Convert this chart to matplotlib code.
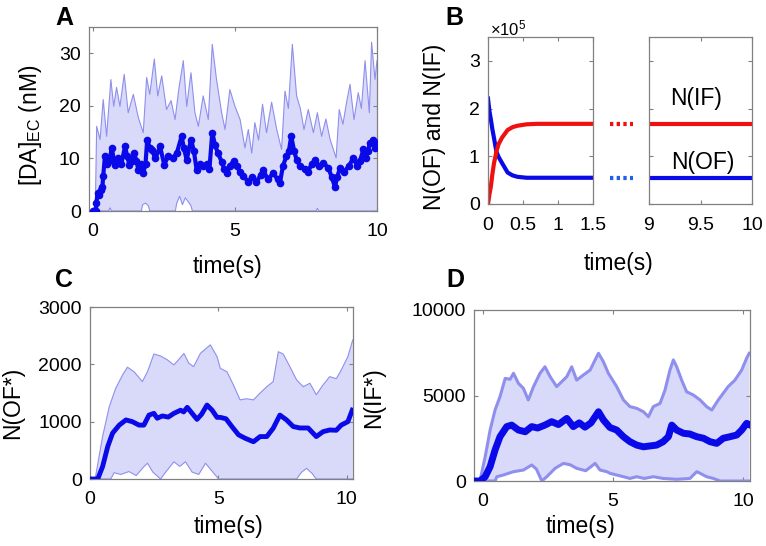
import numpy as np
import matplotlib
matplotlib.use("Agg")
import matplotlib.pyplot as plt

plt.rcParams['font.family'] = ['Liberation Sans', 'DejaVu Sans']
plt.rcParams['mathtext.fontset'] = 'custom'
plt.rcParams['mathtext.rm'] = 'Liberation Sans'
plt.rcParams['mathtext.it'] = 'Liberation Sans:italic'

# ---------------- Panel A data ----------------
tA_up = [0.0, 0.08, 0.13, 0.25, 0.36, 0.48, 0.63, 0.73, 0.83, 0.95, 1.10, 1.24, 1.42, 1.60, 1.77,
         1.89, 2.00, 2.16, 2.28, 2.42, 2.59, 2.75, 2.89, 3.03, 3.18, 3.30, 3.45, 3.59, 3.71, 3.88,
         4.06, 4.20, 4.35, 4.53, 4.65, 4.82, 5.00, 5.18, 5.35, 5.47, 5.59, 5.70, 5.83, 5.97, 6.11,
         6.29, 6.47, 6.64, 6.76, 6.88, 7.02, 7.17, 7.30, 7.43, 7.58, 7.76, 7.90, 8.05, 8.20, 8.35,
         8.56, 8.67, 8.80, 8.93, 9.05, 9.19, 9.34, 9.45, 9.58, 9.73, 9.81, 9.93, 10.0]
vA_up = [0, 0, 16.1, 13.6, 21.2, 14.2, 25.0, 19.9, 23.5, 19.9, 26.0, 18.7, 22.2, 17.7, 14.9,
         25.4, 22.2, 28.9, 21.9, 25.7, 19.3, 21.0, 17.4, 23.5, 28.6, 19.9, 26.3, 18.7, 16.1, 21.9,
         17.4, 31.7, 25.0, 18.7, 15.5, 23.1, 19.9, 17.4, 12.0, 15.5, 11.0, 16.8, 13.5, 20.3, 14.9,
         20.7, 15.5, 11.7, 22.8, 19.5, 31.7, 21.9, 19.5, 15.5, 19.3, 14.9, 18.7, 14.2, 17.5, 13.6,
         10.1, 19.3, 16.5, 20.7, 24.1, 17.4, 22.5, 19.5, 28.6, 18.7, 32.1, 25.0, 28.6]
tA_lo = [0, 0.55, 0.6, 0.65, 1.7, 1.75, 1.85, 1.95, 2.0, 2.9, 2.95, 3.05, 3.15, 3.25, 3.35,
         3.45, 3.5, 7.85, 7.9, 7.95, 10.0]
vA_lo = [0, 0, 0.6, 0, 0, 1.2, 1.5, 1.0, 0, 0, 1.5, 2.8, 1.2, 2.5, 1.8, 1.0, 0, 0, 0.5, 0, 0]
tA_mean = [0.0, 0.05, 0.10, 0.12, 0.16, 0.22, 0.28, 0.33, 0.36, 0.42, 0.50, 0.58, 0.66, 0.77, 0.88,
           1.00, 1.13, 1.20, 1.28, 1.36, 1.45, 1.53, 1.60, 1.70, 1.77, 1.85, 1.91, 2.00, 2.07, 2.20,
           2.36, 2.51, 2.65, 2.80, 2.95, 3.12, 3.20, 3.30, 3.45, 3.55, 3.65, 3.78, 3.88, 4.00, 4.10,
           4.20, 4.30, 4.40, 4.53, 4.62, 4.71, 4.82, 4.95, 5.06, 5.18, 5.29, 5.47, 5.60, 5.75, 5.90,
           6.00, 6.15, 6.35, 6.50, 6.58, 6.69, 6.81, 6.90, 6.98, 7.08, 7.17, 7.30, 7.45, 7.58, 7.70,
           7.82, 7.95, 8.10, 8.29, 8.40, 8.52, 8.60, 8.70, 8.85, 9.00, 9.17, 9.30, 9.40, 9.52, 9.60,
           9.68, 9.75, 9.87, 9.93, 10.0]
vA_mean = [0, 0, 0, 1.5, 3.4, 3.0, 4.0, 4.5, 6.6, 10.4, 9.0, 9.5, 12.0, 8.8, 10.0,
           9.0, 12.3, 10.5, 8.8, 9.5, 11.0, 9.5, 7.8, 9.0, 7.2, 9.0, 13.6, 12.0, 11.6, 10.0,
           12.3, 8.8, 10.5, 10.0, 11.0, 14.2, 12.0, 9.7, 13.6, 11.5, 7.8, 9.0, 8.6, 9.0, 8.0,
           14.9, 12.5, 11.0, 9.4, 8.0, 7.2, 8.6, 9.5, 8.5, 7.5, 6.6, 5.6, 6.5, 5.5, 6.8,
           7.8, 6.0, 7.2, 6.0, 5.3, 8.6, 10.4, 11.5, 14.2, 11.5, 9.7, 8.5, 8.0, 7.5, 9.0,
           9.7, 8.5, 9.2, 8.2, 6.5, 4.6, 6.5, 8.2, 7.5, 8.5, 10.1, 8.5, 9.5, 11.7, 10.0,
           11.5, 12.9, 13.6, 12.0, 12.9]

# ---------------- Panel B data (units of 1e5) ----------------
tB = [0, 0.02, 0.04, 0.062, 0.086, 0.11, 0.12, 0.15, 0.2, 0.28, 0.35, 0.42, 0.55, 0.7, 1.0, 1.5]
nIF = [0, 0.2, 0.36, 0.62, 0.86, 1.02, 1.10, 1.25, 1.39, 1.55, 1.61, 1.64, 1.67, 1.68, 1.68, 1.68]
nOF = [2.21, 1.95, 1.78, 1.57, 1.38, 1.18, 1.10, 0.99, 0.86, 0.66, 0.60, 0.57, 0.55, 0.55, 0.55, 0.55]
tB2 = [9, 10]
nIF2 = [1.68, 1.68]
nOF2 = [0.55, 0.55]
t_gap = [1.74, 2.07]

# ---------------- Panel C data ----------------
tC_mean = [0.0, 0.30, 0.49, 0.69, 0.88, 1.14, 1.40, 1.65, 1.91, 2.10, 2.30, 2.49, 2.62, 2.82, 3.05,
           3.27, 3.53, 3.65, 3.79, 3.98, 4.17, 4.35, 4.56, 4.76, 4.95, 5.08, 5.30, 5.53, 5.79, 6.05,
           6.37, 6.63, 6.89, 7.14, 7.40, 7.66, 7.92, 8.18, 8.50, 8.82, 9.08, 9.34, 9.60, 9.79, 10.05, 10.22]
vC_mean = [0, 0, 215, 565, 800, 940, 1030, 1000, 940, 940, 1115, 1145, 1060, 1100, 1080,
           1145, 1200, 1170, 1250, 1145, 1040, 1130, 1290, 1200, 1075, 1075, 1050, 915, 770, 710,
           650, 740, 740, 885, 1115, 1030, 915, 890, 890, 740, 825, 855, 850, 940, 1000, 1200]
tC_up = [0.0, 0.20, 0.49, 0.75, 1.0, 1.27, 1.46, 1.72, 2.04, 2.24, 2.49, 2.75, 3.01, 3.27, 3.45,
         3.66, 3.85, 4.04, 4.30, 4.69, 4.95, 5.08, 5.34, 5.59, 5.85, 6.10, 6.37, 6.63, 6.89, 7.14,
         7.34, 7.53, 7.79, 8.05, 8.31, 8.57, 8.82, 9.08, 9.34, 9.60, 9.79, 10.05, 10.24]
vC_up = [0, 0, 740, 1260, 1580, 1815, 1950, 1870, 1700, 1870, 2180, 2145, 2080, 1990, 2080,
         2190, 2020, 1960, 2190, 2340, 2135, 1930, 1870, 1640, 1380, 1400, 1380, 1500, 1610, 1700,
         2220, 2180, 1960, 1730, 1610, 1670, 1470, 1640, 1785, 1750, 1900, 2135, 2425]
tC_lo = [0.0, 0.81, 0.94, 1.20, 1.52, 1.80, 2.10, 2.24, 2.45, 2.75, 2.95, 3.27, 3.50, 3.72, 3.98,
         4.24, 4.50, 4.75, 5.01, 8.05, 8.25, 8.44, 8.65, 8.82, 10.24]
vC_lo = [0, 0, 110, 80, 130, 60, 215, 275, 120, 0, 120, 300, 220, 300, 120,
         80, 275, 140, 0, 0, 120, 185, 100, 0, 0]

# ---------------- Panel D data ----------------
tD_mean = [-0.37, -0.12, 0.08, 0.27, 0.46, 0.65, 0.91, 1.10, 1.36, 1.62, 1.87, 2.10, 2.38, 2.64, 2.90,
           3.22, 3.47, 3.70, 3.92, 4.15, 4.44, 4.63, 4.88, 5.14, 5.40, 5.65, 5.91, 6.17, 6.42, 6.68,
           6.93, 7.13, 7.26, 7.45, 7.71, 7.95, 8.22, 8.48, 8.73, 8.99, 9.24, 9.50, 9.76, 9.95, 10.14, 10.24]
vD_mean = [0, 0, 250, 840, 1810, 2590, 3180, 3270, 2980, 2880, 3180, 3100, 3270, 3470, 3300,
           3660, 3180, 3400, 3150, 3400, 4050, 3570, 3130, 2980, 2590, 2300, 2100, 2000, 2050, 2100,
           2300, 2590, 3270, 2980, 2790, 2750, 2590, 2500, 2300, 2200, 2500, 2590, 2690, 2980, 3370, 3300]
tD_up = [-0.37, -0.12, 0.08, 0.27, 0.46, 0.65, 0.85, 1.04, 1.17, 1.36, 1.55, 1.74, 1.94, 2.19, 2.38,
         2.58, 2.83, 3.02, 3.22, 3.41, 3.60, 3.86, 4.12, 4.31, 4.44, 4.63, 4.82, 5.14, 5.40, 5.65,
         5.91, 6.17, 6.36, 6.55, 6.81, 7.00, 7.19, 7.32, 7.45, 7.64, 7.83, 8.09, 8.35, 8.60, 8.80,
         9.05, 9.24, 9.43, 9.69, 9.95, 10.14, 10.24]
vD_up = [0, 0, 1420, 2980, 4150, 4930, 6000, 5950, 6300, 5710, 5420, 4740, 5520, 6300, 6680,
         6100, 5520, 5800, 6100, 6680, 5900, 6200, 6490, 7080, 7470, 6970, 6300, 5520, 4740, 4350,
         4250, 4050, 3760, 4350, 4540, 5320, 6490, 7080, 6680, 5900, 5220, 5030, 4740, 4350, 4150,
         4740, 5130, 5520, 5900, 6490, 7180, 7470]
tD_lo = [-0.37, 0.46, 0.53, 0.78, 1.17, 1.55, 1.87, 2.05, 2.26, 2.45, 2.77, 3.09, 3.35, 3.60, 3.95,
         4.31, 4.50, 4.76, 4.88, 5.14, 5.40, 5.65, 5.91, 6.20, 6.55, 6.93, 7.45, 7.96, 8.22, 8.35,
         8.60, 8.86, 9.12, 10.24]
vD_lo = [0, 0, 250, 350, 545, 640, 935, 700, 0, 250, 740, 1030, 950, 740, 600,
         1030, 640, 545, 450, 350, 250, 150, 250, 150, 250, 150, 100, 150, 545, 450,
         250, 150, 0, 0]

# ---------------- styling ----------------
W, H = 766, 546
FILL = '#d9d9fa'
ENV = '#8f8fee'
MEAN = '#0a0ae8'
SPINE = '#808080'
TICK_FS = 14
LAB_FS = 16.5

fig = plt.figure(figsize=(W / 100, H / 100), dpi=100)


def rect(l, r, t, b):
    return [l / W, 1 - b / H, (r - l) / W, (b - t) / H]


def style(ax):
    for s in ax.spines.values():
        s.set_color(SPINE)
        s.set_linewidth(0.9)
    ax.tick_params(direction='in', length=3, width=0.8, top=True, right=True,
                   colors=SPINE, labelcolor='black', labelsize=TICK_FS)
    ax.tick_params(axis='x', pad=9)
    ax.tick_params(axis='y', pad=6)


def set_xlabel_px(ax, text, x, y, r):
    ax.set_xlabel(text, fontsize=LAB_FS)
    l, rr, t, b = r
    ax.xaxis.set_label_coords((x - l) / (rr - l), (b - y) / (b - t))
    ax.xaxis.label.set_va('center')


def set_ylabel_px(ax, text, x, y, r):
    ax.set_ylabel(text, fontsize=LAB_FS)
    l, rr, t, b = r
    ax.yaxis.set_label_coords((x - l) / (rr - l), (b - y) / (b - t))
    ax.yaxis.label.set_va('center')


def letter(ch, x, y):
    fig.text(x / W, 1 - y / H, ch, fontsize=18, fontweight='bold', ha='left', va='center')


def envelope(ax, tu, vu, tl, vl, lw):
    xs = np.concatenate([np.asarray(tu), np.asarray(tl)[::-1]])
    ys = np.concatenate([np.asarray(vu), np.asarray(vl)[::-1]])
    ax.fill(xs, ys, color=FILL, lw=0, zorder=1)
    ax.plot(tu, vu, color=ENV, lw=lw, zorder=2)
    ax.plot(tl, vl, color=ENV, lw=lw, zorder=2)


# ---- Panel A ----
rA = (89, 377, 27, 211)
axA = fig.add_axes(rect(*rA))
envelope(axA, tA_up, vA_up, tA_lo, vA_lo, 0.8)
axA.plot(tA_mean, vA_mean, color=MEAN, lw=3.0, marker='o', ms=5.5, mew=0, zorder=3)
axA.set_xlim(-0.14, 10)
axA.set_ylim(0, 35)
axA.set_xticks([0, 5, 10])
axA.set_yticks([0, 10, 20, 30])
style(axA)
set_xlabel_px(axA, 'time(s)', 228, 266, rA)
set_ylabel_px(axA, r'[DA]$_{\mathrm{EC}}$ (nM)', 31, 125, rA)
letter('A', 55, 18)

# ---- Panel B ----
rB1 = (488, 593, 37, 204)
rB2 = (649, 752, 37, 204)
axB1 = fig.add_axes(rect(*rB1))
axB2 = fig.add_axes(rect(*rB2))
axB1.plot(tB, nOF, color='#0a0ae8', lw=3)
axB1.plot(tB, nIF, color='#f01010', lw=3)
axB2.plot(tB2, nOF2, color='#0a0ae8', lw=3)
axB2.plot(tB2, nIF2, color='#f01010', lw=3)
axB1.plot(t_gap, [nIF[-1]] * 2, color='#f01010', lw=3, ls=(0, (0.8, 0.8)), clip_on=False)
axB1.plot(t_gap, [nOF[-1]] * 2, color='#2060f0', lw=3, ls=(0, (0.8, 0.8)), clip_on=False)
for ax in (axB1, axB2):
    ax.set_ylim(0, 3.5)
    ax.set_yticks([0, 1, 2, 3])
    style(ax)
axB1.set_xlim(0, 1.5)
axB1.set_xticks([0, 0.5, 1, 1.5])
axB1.set_xticklabels(['0', '0.5', '1', '1.5'])
axB2.set_xlim(9, 10)
axB2.set_xticks([9, 9.5, 10])
axB2.set_xticklabels(['9', '9.5', '10'])
axB2.set_yticklabels([])
set_ylabel_px(axB1, 'N(OF) and N(IF)', 434, 127, rB1)
fig.text(618 / W, 1 - 263 / H, 'time(s)', fontsize=LAB_FS, ha='center', va='center')
fig.text(508 / W, 1 - 28 / H, r'$\times$10$^{5}$', fontsize=12, ha='center', va='center')
axB2.text(0.46, 0.63, 'N(IF)', transform=axB2.transAxes, fontsize=LAB_FS, ha='center', va='center')
axB2.text(0.52, 0.25, 'N(OF)', transform=axB2.transAxes, fontsize=LAB_FS, ha='center', va='center')
letter('B', 445, 18)

# ---- Panel C ----
rC = (90, 353, 307, 479)
axC = fig.add_axes(rect(*rC))
envelope(axC, tC_up, vC_up, tC_lo, vC_lo, 0.8)
axC.plot(tC_mean, vC_mean, color=MEAN, lw=3.5, zorder=3)
axC.set_xlim(0, 10.25)
axC.set_ylim(0, 3000)
axC.set_xticks([0, 5, 10])
axC.set_yticks([0, 1000, 2000, 3000])
style(axC)
set_xlabel_px(axC, 'time(s)', 228, 527, rC)
set_ylabel_px(axC, 'N(OF*)', 13, 403, rC)
letter('C', 55, 280)

# ---- Panel D ----
rD = (474, 750, 310, 481)
axD = fig.add_axes(rect(*rD))
envelope(axD, tD_up, vD_up, tD_lo, vD_lo, 2.2)
axD.plot(tD_mean, vD_mean, color=MEAN, lw=5, zorder=3)
axD.set_xlim(-0.35, 10.27)
axD.set_ylim(0, 10000)
axD.set_xticks([0, 5, 10])
axD.set_yticks([0, 5000, 10000])
style(axD)
set_xlabel_px(axD, 'time(s)', 580, 527, rD)
set_ylabel_px(axD, 'N(IF*)', 374, 398, rD)
letter('D', 446, 280)

fig.savefig('out.png', dpi=100)
